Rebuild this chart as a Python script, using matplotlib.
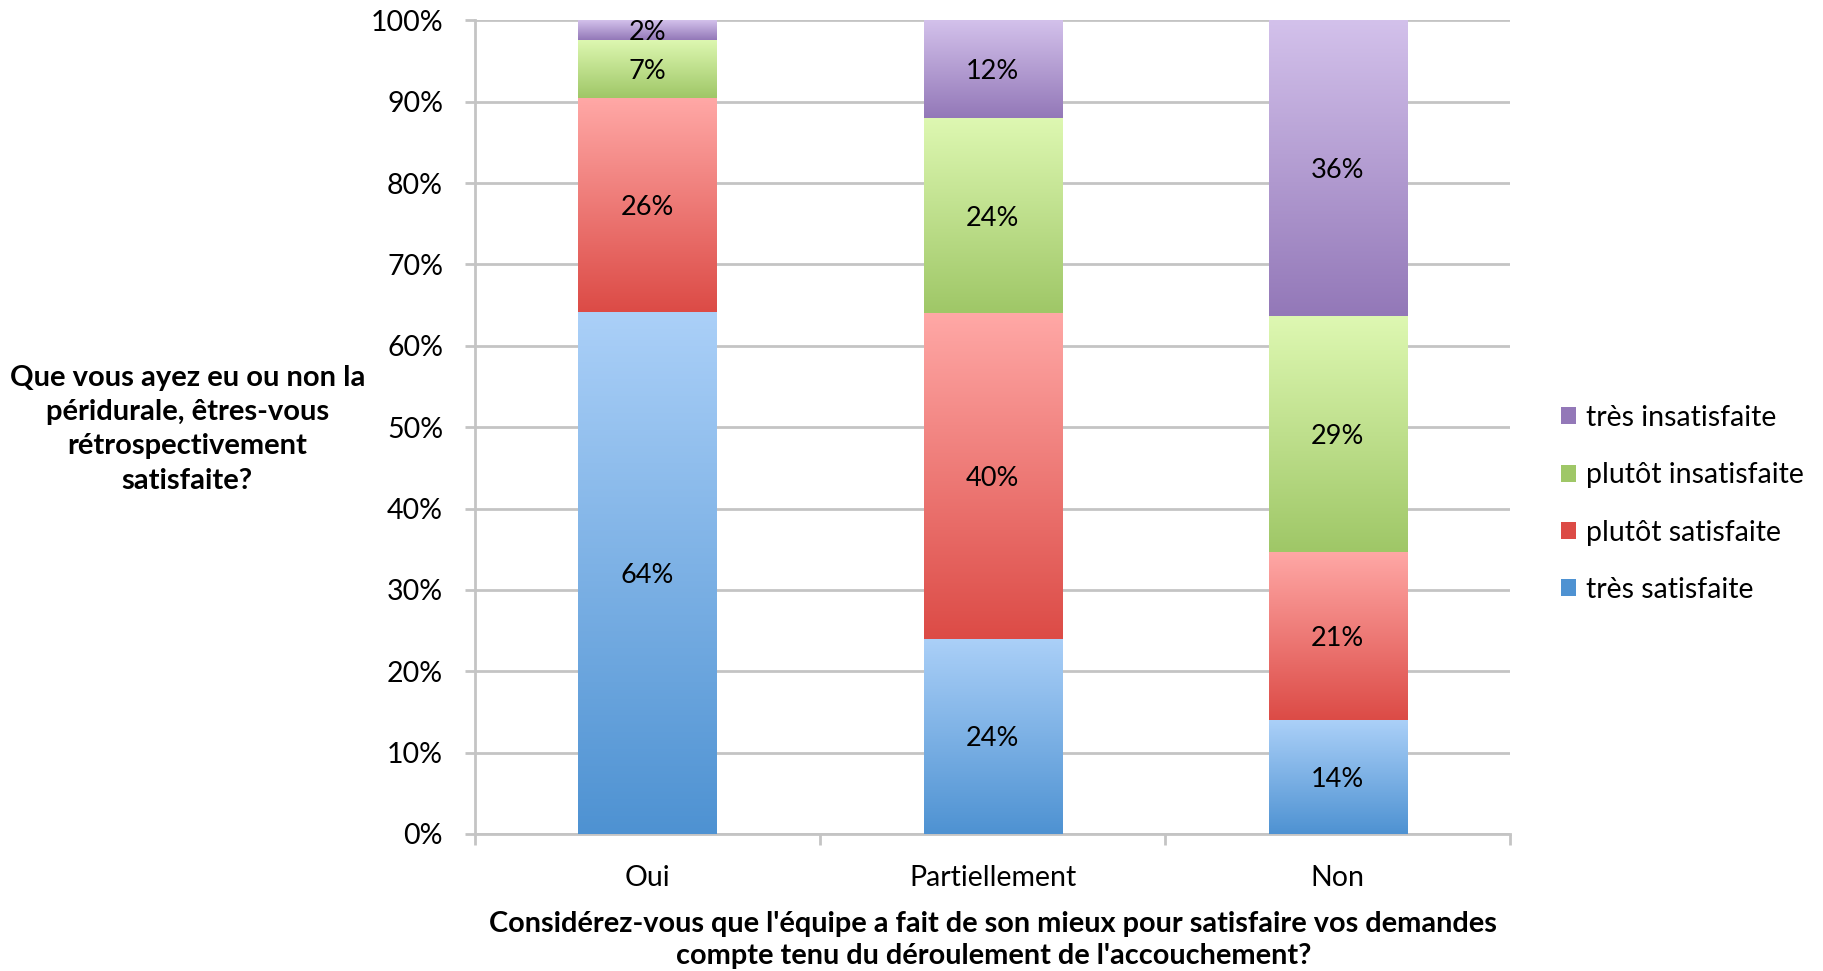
import numpy as np
import matplotlib
matplotlib.use("Agg")
import matplotlib.pyplot as plt
from matplotlib.colors import LinearSegmentedColormap
from matplotlib.patches import Patch

plt.rcParams["font.family"] = ["Lato", "DejaVu Sans"]

categories = ["Oui", "Partiellement", "Non"]
series_names = ["très satisfaite", "plutôt satisfaite",
                "plutôt insatisfaite", "très insatisfaite"]
# parts en %
tres_satisfaite = [64.2, 24.0, 14.0]
plutot_satisfaite = [26.2, 40.0, 20.7]
plutot_insatisfaite = [7.2, 24.0, 29.0]
tres_insatisfaite = [2.4, 12.0, 36.3]
series = [tres_satisfaite, plutot_satisfaite, plutot_insatisfaite, tres_insatisfaite]

# couleurs (haut clair, bas foncé) pour le dégradé
couleurs = [
    ("#abd0f8", "#4e92d2"),
    ("#ffa8a6", "#dc4b46"),
    ("#def8b2", "#9fc767"),
    ("#d3c1eb", "#9378b8"),
]

fig = plt.figure(figsize=(18.24, 9.71), dpi=100)
ax = fig.add_axes([0.2604, 0.1411, 0.5675, 0.8379])

x = np.arange(len(categories))
bottom = np.zeros(len(categories))
grad = np.linspace(0, 1, 256).reshape(-1, 1)
for vals, (clair, fonce), nom in zip(series, couleurs, series_names):
    bars = ax.bar(x, vals, width=0.4, bottom=bottom, color=fonce,
                  linewidth=0, zorder=2, label=nom)
    cmap = LinearSegmentedColormap.from_list("g", [fonce, clair])
    for bar, v, b in zip(bars, vals, bottom):
        x0, y0 = bar.get_x(), bar.get_y()
        img = ax.imshow(grad, cmap=cmap, origin="lower", aspect="auto",
                        extent=[x0, x0 + bar.get_width(), y0, y0 + bar.get_height()],
                        zorder=3)
        img.set_clip_path(bar)
        # étiquette au milieu du segment
        ax.text(bar.get_x() + bar.get_width() / 2, b + v / 2, f"{round(v)}%",
                ha="center", va="center_baseline", fontsize=19.5,
                color="black", zorder=4)
    bottom += np.array(vals)

ax.set_xlim(-0.5, 2.5)
ax.set_ylim(0, 100)
ax.set_yticks(np.arange(0, 101, 10))
ax.set_yticklabels([f"{t}%" for t in range(0, 101, 10)], fontsize=20.5)
ax.yaxis.grid(True, color="#c4c4c4", linewidth=2)
ax.set_axisbelow(True)

ax.set_xticks(x)
ax.set_xticklabels(categories, fontsize=20.5)
ax.set_xticks([-0.5, 0.5, 1.5, 2.5], minor=True)
ax.tick_params(axis="x", which="major", length=0, pad=22)
ax.tick_params(axis="x", which="minor", length=8, width=2, color="#c4c4c4")
ax.tick_params(axis="y", length=7, width=2, color="#c4c4c4", pad=16)

for s in ["top", "right"]:
    ax.spines[s].set_visible(False)
for s in ["left", "bottom"]:
    ax.spines[s].set_color("#c4c4c4")
    ax.spines[s].set_linewidth(2)

fig.text(0.1027, 0.558,
         "Que vous ayez eu ou non la\npéridurale, êtres-vous\nrétrospectivement\nsatisfaite?",
         ha="center", va="center", fontsize=21, fontweight="bold",
         multialignment="center", linespacing=1.4)
fig.text(0.5446, 0.032,
         "Considérez-vous que l'équipe a fait de son mieux pour satisfaire vos demandes\n"
         "compte tenu du déroulement de l'accouchement?",
         ha="center", va="center", fontsize=20.8, fontweight="bold",
         multialignment="center", linespacing=1.3)

handles = [Patch(facecolor=c[1], label=n) for n, c in zip(series_names, couleurs)]
fig.legend(handles[::-1], series_names[::-1], loc="center left",
           bbox_to_anchor=(0.8416, 0.481), frameon=False, fontsize=20.5,
           handlelength=0.55, handleheight=0.55, handletextpad=0.35,
           labelspacing=1.1)

fig.savefig("out.png", dpi=100)
